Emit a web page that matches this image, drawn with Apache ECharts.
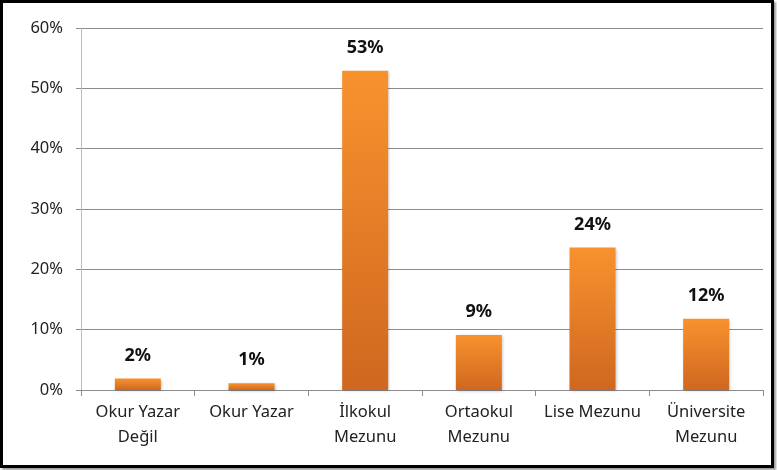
<!DOCTYPE html>
<html>
<head>
<meta charset="utf-8">
<script src="https://cdn.jsdelivr.net/npm/echarts@6/dist/echarts.min.js"></script>
<style>
html,body{margin:0;padding:0;background:#fff;}
#frame{position:absolute;left:0;top:0;width:768px;height:462px;border:3px solid #000;box-shadow:2px 2px 2px #999;}
#chart{position:absolute;left:0;top:0;width:777px;height:470px;}
</style>
</head>
<body>
<div id="frame"></div>
<div id="chart"></div>
<script>
// kategoriler ve değerler (%)
const categories = ['Okur Yazar\nDeğil', 'Okur Yazar', 'İlkokul\nMezunu', 'Ortaokul\nMezunu', 'Lise Mezunu', 'Üniversite\nMezunu'];
const values = [1.9, 1.1, 52.9, 9.1, 23.6, 11.8];
const yTicks = [0, 10, 20, 30, 40, 50, 60];

const myChart = echarts.init(document.getElementById('chart'));
const font = '"Noto Sans", "Open Sans", sans-serif';
const option = {
  animation: false,
  grid: {left: 81, top: 28, right: 14, bottom: 80},
  xAxis: {
    type: 'category',
    data: categories,
    axisLine: {lineStyle: {color: '#8c8c8c'}},
    axisTick: {show: true, length: 6, lineStyle: {color: '#8c8c8c'}},
    axisLabel: {color: '#222', fontSize: 16.5, fontFamily: font, lineHeight: 25, margin: 10, interval: 0}
  },
  yAxis: {
    type: 'value',
    min: yTicks[0],
    max: yTicks[yTicks.length - 1],
    interval: 10,
    axisLine: {show: true, lineStyle: {color: '#bdbdbd'}},
    axisTick: {show: true, length: 5, lineStyle: {color: '#8c8c8c'}},
    splitLine: {lineStyle: {color: '#8c8c8c'}},
    axisLabel: {color: '#222', fontSize: 16.5, fontFamily: font, margin: 18, formatter: '{value}%'}
  },
  series: [{
    type: 'bar',
    data: values,
    barWidth: 46,
    itemStyle: {
      color: new echarts.graphic.LinearGradient(0, 0, 0, 1, [
        {offset: 0, color: '#f8922e'},
        {offset: 1, color: '#cf671f'}
      ]),
      shadowColor: 'rgba(0,0,0,0.25)',
      shadowBlur: 3,
      shadowOffsetX: 1,
      shadowOffsetY: 1
    },
    label: {
      show: true,
      position: 'top',
      distance: 14,
      color: '#111',
      fontWeight: 'bold',
      fontSize: 18,
      fontFamily: font,
      formatter: p => Math.round(p.value) + '%'
    }
  }]
};
myChart.setOption(option);
</script>
</body>
</html>
